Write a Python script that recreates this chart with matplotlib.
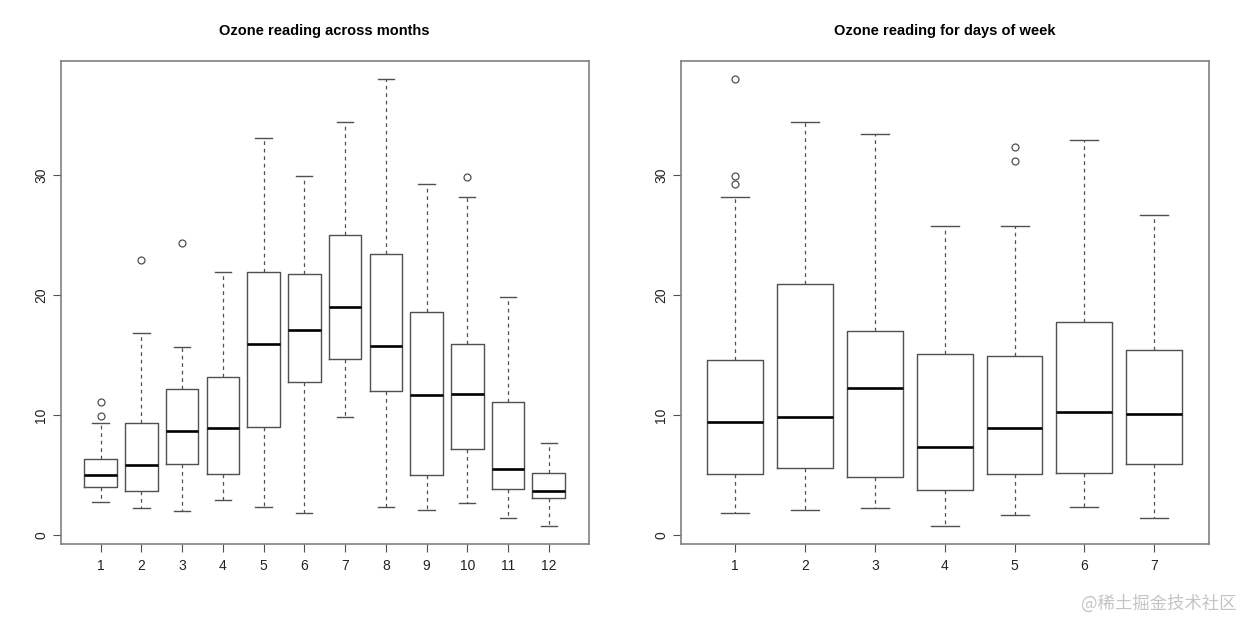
import matplotlib
matplotlib.use("Agg")
import matplotlib.pyplot as plt

# month boxes: whisker low, q1, median, q3, whisker high
month_labels = ["1", "2", "3", "4", "5", "6", "7", "8", "9", "10", "11", "12"]
month_whislo = [2.72, 2.20, 2.00, 2.89, 2.28, 1.83, 9.78, 2.33, 2.08, 2.67, 1.42, 0.75]
month_q1 = [3.95, 3.64, 5.92, 5.11, 8.97, 12.78, 14.64, 12.00, 5.00, 7.14, 3.80, 3.03]
month_med = [4.97, 5.83, 8.64, 8.92, 15.92, 17.06, 19.00, 15.78, 11.67, 11.75, 5.50, 3.69]
month_q3 = [6.30, 9.30, 12.14, 13.17, 21.89, 21.78, 25.03, 23.39, 18.61, 15.89, 11.03, 5.19]
month_whishi = [9.33, 16.86, 15.69, 21.94, 33.08, 29.89, 34.44, 38.03, 29.25, 28.19, 19.83, 7.64]
month_fliers = [[9.94, 11.08], [22.90], [24.33], [], [], [], [], [], [], [29.83], [], []]

# day-of-week boxes
day_labels = ["1", "2", "3", "4", "5", "6", "7"]
day_whislo = [1.78, 2.03, 2.20, 0.75, 1.69, 2.28, 1.42]
day_q1 = [5.06, 5.53, 4.86, 3.72, 5.03, 5.19, 5.89]
day_med = [9.39, 9.81, 12.22, 7.36, 8.92, 10.25, 10.11]
day_q3 = [14.61, 20.94, 16.97, 15.11, 14.92, 17.75, 15.44]
day_whishi = [28.19, 34.44, 33.44, 25.75, 25.75, 32.92, 26.69]
day_fliers = [[38.03, 29.92, 29.25], [], [], [], [32.30, 31.19], [], []]

y_ticks = [0, 10, 20, 30]

LINE = "#505050"


def make_stats(labels, lo, q1, med, q3, hi, fliers):
    stats = []
    for i in range(len(labels)):
        stats.append({"label": labels[i], "whislo": lo[i], "q1": q1[i], "med": med[i],
                      "q3": q3[i], "whishi": hi[i], "fliers": fliers[i]})
    return stats


def draw_panel(ax, stats, n):
    ax.bxp(stats, positions=range(1, n + 1), widths=0.8, showfliers=True,
           boxprops=dict(color=LINE, linewidth=1.0),
           medianprops=dict(color="black", linewidth=1.9),
           whiskerprops=dict(color=LINE, linewidth=0.9, linestyle=(0, (3, 3))),
           capprops=dict(color=LINE, linewidth=1.0),
           capwidths=0.4,
           flierprops=dict(marker="o", markerfacecolor="none", markeredgecolor=LINE,
                           markersize=5, markeredgewidth=0.9))
    pad = 0.04 * n
    ax.set_xlim(0.5 - pad, n + 0.5 + pad)
    ax.set_ylim(-0.74, 39.52)
    ax.set_yticks(y_ticks)
    ax.set_yticklabels([str(v) for v in y_ticks], rotation=90, va="center")
    ax.tick_params(axis="both", direction="out", length=6, color=LINE, labelsize=10,
                   labelcolor="#222222")
    ax.tick_params(axis="x", pad=5)
    ax.tick_params(axis="y", pad=3)
    for s in ax.spines.values():
        s.set_color("#808080")
        s.set_linewidth(1.2)
    return ax


fig = plt.figure(figsize=(12.4, 6.2), dpi=100)
plt.rcParams["font.family"] = ["Liberation Sans", "DejaVu Sans"]

ax1 = fig.add_axes([60.7 / 1240, 76.3 / 620, 528 / 1240, 483 / 620])
ax2 = fig.add_axes([680.7 / 1240, 76.3 / 620, 528 / 1240, 483 / 620])

draw_panel(ax1, make_stats(month_labels, month_whislo, month_q1, month_med, month_q3,
                           month_whishi, month_fliers), len(month_labels))
draw_panel(ax2, make_stats(day_labels, day_whislo, day_q1, day_med, day_q3,
                           day_whishi, day_fliers), len(day_labels))

fig.text(324.7 / 1240, 1 - 31.5 / 620, "Ozone reading across months", ha="center", va="center",
         fontsize=10.5, fontweight="bold", family=["Liberation Sans", "DejaVu Sans"])
fig.text(944.7 / 1240, 1 - 31.5 / 620, "Ozone reading for days of week", ha="center", va="center",
         fontsize=10.5, fontweight="bold", family=["Liberation Sans", "DejaVu Sans"])

fig.text(1236 / 1240, 1 - 604 / 620, "@稀土掘金技术社区", ha="right", va="center",
         fontsize=12.5, color="#c4c4c4", family=["Noto Sans CJK SC", "DejaVu Sans"])

fig.savefig("out.png", dpi=100, facecolor="white")
